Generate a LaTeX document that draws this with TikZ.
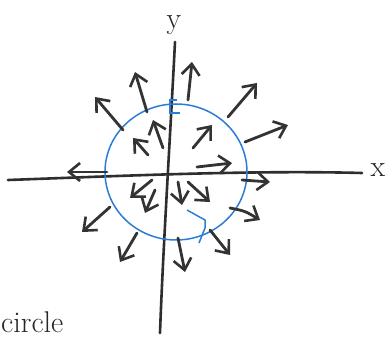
\documentclass[tikz,border=0pt]{standalone}
\usetikzlibrary{arrows.meta}
\definecolor{ringblue}{RGB}{45,125,215}
\begin{document}
\begin{tikzpicture}[x=1pt,y=-1pt,
  axis/.style={line width=2.6pt,draw=black!82,line cap=round},
  vec/.style={line width=2.8pt,draw=black!80,line cap=round,
    -{Straight Barb[length=11pt,width=18pt,line width=2.6pt]}},
  ring/.style={line width=1.5pt,draw=ringblue},
  lab/.style={font=\fontsize{30}{30}\selectfont,text=black!85,inner sep=0pt}]
\useasboundingbox (0,0) rectangle (386,339);
\fill[white] (0,0) rectangle (386,339);
% axes
\coordinate (xl) at (8,180);
\coordinate (xr) at (362,173);
\coordinate (yt) at (175,42);
\coordinate (yb) at (160,333);
\draw[axis] (xl) .. controls (120,176) and (250,170) .. (xr);
\draw[axis] (yt) .. controls (170,140) and (163,250) .. (yb);
\node[lab,anchor=north] (ylab) at (174,15) {y};
\node[lab] (xlab) at (378,170) {x};
\node[lab,anchor=west] (clab) at (1,322) {circle};
% circle
\coordinate (c) at (176,172);
\draw[ring] (c) ellipse [x radius=71, y radius=68];
\draw[ring] (177,100) -- (170,100) -- (170,113) -- (180,113);
\draw[ring] (187,210) -- (205,220) -- (205,228) -- (199,243);
% outside vectors
\foreach \a/\b in {
  {(188,100)}/{(192,62)},
  {(147,112)}/{(135,72)},
  {(123,130)}/{(95,97)},
  {(228,117)}/{(257,83)},
  {(245,142)}/{(288,125)},
  {(107,172)}/{(67,172)},
  {(242,180)}/{(270,182)},
  {(110,207)}/{(82,232)},
  {(137,233)}/{(120,262)},
  {(178,238)}/{(185,272)},
  {(210,230)}/{(230,255)}}
  \draw[vec] \a -- \b;
\draw[vec] (230,208) .. controls (245,211) .. (260,220);
% inside vectors
\foreach \a/\b in {
  {(163,148)}/{(153,120)},
  {(148,155)}/{(133,138)},
  {(193,148)}/{(212,125)},
  {(197,167)}/{(232,163)},
  {(152,180)}/{(130,198)},
  {(155,190)}/{(145,213)},
  {(178,182)}/{(182,205)},
  {(188,182)}/{(210,202)}}
  \draw[vec] \a -- \b;
\end{tikzpicture}
\end{document}
